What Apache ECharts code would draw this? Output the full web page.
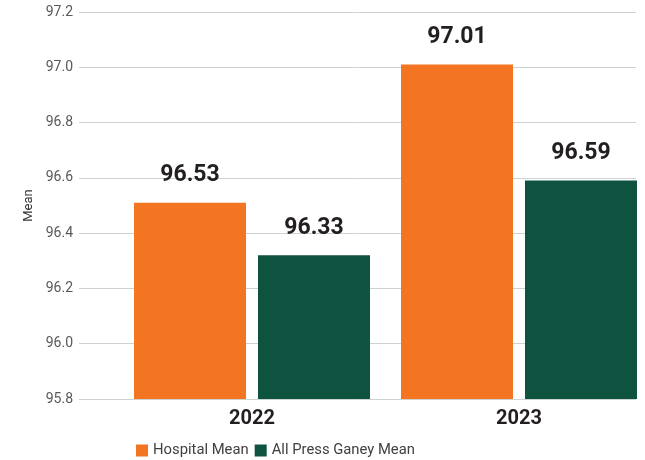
<!DOCTYPE html>
<html>
<head>
<meta charset="utf-8">
<script src="https://cdn.jsdelivr.net/npm/echarts@6/dist/echarts.min.js"></script>
<style>
html,body{margin:0;padding:0;background:#fff;}
#chart{width:645px;height:460px;}
</style>
</head>
<body>
<div id="chart"></div>
<script>
const categories = ['2022', '2023'];
const seriesNames = ['Hospital Mean', 'All Press Ganey Mean'];
const hospitalMean = [96.51, 97.01];
const hospitalLabels = ['96.53', '97.01'];
const pressGaneyMean = [96.32, 96.59];
const pressGaneyLabels = ['96.33', '96.59'];
const yMin = 95.8, yMax = 97.2, yStep = 0.2;

const FONT = 'Roboto';
const chart = echarts.init(document.getElementById('chart'), null, {renderer: 'canvas'});

function labelOpt(texts) {
  return {
    show: true,
    position: 'top',
    distance: 16,
    fontFamily: FONT,
    fontWeight: 'bold',
    fontSize: 23,
    color: '#231f20',
    formatter: p => texts[p.dataIndex]
  };
}

chart.setOption({
  animation: false,
  backgroundColor: '#fff',
  textStyle: {fontFamily: FONT},
  grid: [
    {left: 79, right: 9, top: 12, bottom: 61, outerBoundsMode: 'none', containLabel: false},
    {left: 118.5, width: 534, top: 12, bottom: 61, outerBoundsMode: 'none', containLabel: false}
  ],
  legend: {
    left: 136, top: 443, padding: 0,
    itemWidth: 12, itemHeight: 12, itemGap: 6,
    icon: 'rect',
    data: seriesNames,
    textStyle: {fontFamily: FONT, fontSize: 14.8, color: '#414042'}
  },
  xAxis: [
    {gridIndex: 0, type: 'category', data: categories, show: false},
    {
      gridIndex: 1, type: 'category', data: categories,
      axisLine: {show: false}, axisTick: {show: false},
      axisLabel: {fontFamily: FONT, fontWeight: 'bold', fontSize: 20, color: '#231f20', margin: 10}
    }
  ],
  yAxis: [
    {
      gridIndex: 0, type: 'value', min: yMin, max: yMax, interval: yStep,
      name: 'Mean', nameLocation: 'middle', nameGap: 40,
      nameTextStyle: {fontFamily: FONT, fontSize: 13, color: '#333'},
      axisLine: {show: false}, axisTick: {show: false},
      axisLabel: {fontFamily: FONT, fontSize: 14, color: '#58595b', margin: 6, formatter: v => v.toFixed(1)},
      splitLine: {lineStyle: {color: '#cdd3d1', width: 1}}
    },
    {
      gridIndex: 1, type: 'value', min: yMin, max: yMax, interval: yStep,
      show: false, splitLine: {show: false}
    }
  ],
  series: [
    {
      name: seriesNames[0], type: 'bar', xAxisIndex: 1, yAxisIndex: 1,
      data: hospitalMean, barWidth: 112, barGap: '10.7%',
      itemStyle: {color: '#f47521'},
      label: labelOpt(hospitalLabels)
    },
    {
      name: seriesNames[1], type: 'bar', xAxisIndex: 1, yAxisIndex: 1,
      data: pressGaneyMean, barWidth: 112, barGap: '10.7%',
      itemStyle: {color: '#0e5240'},
      label: labelOpt(pressGaneyLabels)
    }
  ]
});
</script>
</body>
</html>
